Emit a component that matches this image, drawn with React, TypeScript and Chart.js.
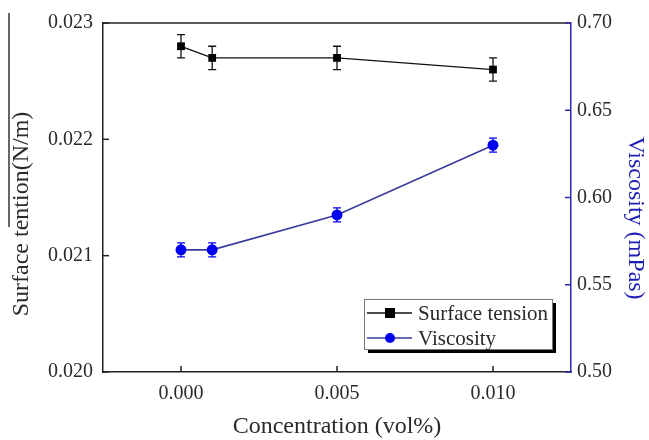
import React, { useEffect, useRef } from "react";
import { Chart, registerables } from "chart.js";

Chart.register(...registerables);

const concentrations = [0, 0.001, 0.005, 0.01];
const surfaceTension = [0.0228, 0.0227, 0.0227, 0.0226];
const surfaceTensionErr = [0.0001, 0.0001, 0.0001, 0.0001];
const viscosity = [0.57, 0.57, 0.59, 0.63];
const viscosityErr = [0.004, 0.004, 0.004, 0.004];
const xTicks = [0, 0.005, 0.01];
const leftTicks = [0.02, 0.021, 0.022, 0.023];
const rightTicks = [0.5, 0.55, 0.6, 0.65, 0.7];

const FONT = "'Liberation Serif', 'Times New Roman', serif";
const BLUE_AXIS = "#2a2ab0";
const BLUE_LINE = "#3a3a9e";
const BLUE_MARK = "#0000f0";
const TEXT = "#2a2a2a";

const errorBarPlugin = {
  id: "errorBars",
  beforeDatasetsDraw(chart: any) {
    const ctx = chart.ctx;
    const errs = [surfaceTensionErr, viscosityErr];
    const colors = ["#111", BLUE_MARK];
    chart.data.datasets.forEach((ds: any, i: number) => {
      const yScale = chart.scales[ds.yAxisID];
      const xScale = chart.scales.x;
      ctx.save();
      ctx.strokeStyle = colors[i];
      ctx.lineWidth = 1.3;
      ds.data.forEach((p: any, j: number) => {
        const px = xScale.getPixelForValue(p.x);
        const y1 = yScale.getPixelForValue(p.y + errs[i][j]);
        const y2 = yScale.getPixelForValue(p.y - errs[i][j]);
        ctx.beginPath();
        ctx.moveTo(px, y1);
        ctx.lineTo(px, y2);
        ctx.moveTo(px - 4, y1);
        ctx.lineTo(px + 4, y1);
        ctx.moveTo(px - 4, y2);
        ctx.lineTo(px + 4, y2);
        ctx.stroke();
      });
      ctx.restore();
    });
  },
};

const decorPlugin = {
  id: "decor",
  afterDraw(chart: any) {
    const ctx = chart.ctx;
    const a = chart.chartArea;
    ctx.save();
    // top border
    ctx.strokeStyle = "#222";
    ctx.lineWidth = 1.5;
    ctx.beginPath();
    ctx.moveTo(a.left, a.top);
    ctx.lineTo(a.right, a.top);
    ctx.stroke();
    // inward ticks
    const tl = 6;
    chart.scales.x.ticks.forEach((t: any) => {
      const px = chart.scales.x.getPixelForValue(t.value);
      ctx.strokeStyle = "#222";
      ctx.beginPath();
      ctx.moveTo(px, a.bottom);
      ctx.lineTo(px, a.bottom - tl);
      ctx.stroke();
    });
    chart.scales.y.ticks.forEach((t: any) => {
      const py = chart.scales.y.getPixelForValue(t.value);
      ctx.strokeStyle = "#222";
      ctx.beginPath();
      ctx.moveTo(a.left, py);
      ctx.lineTo(a.left + tl, py);
      ctx.stroke();
    });
    chart.scales.y1.ticks.forEach((t: any) => {
      const py = chart.scales.y1.getPixelForValue(t.value);
      ctx.strokeStyle = BLUE_AXIS;
      ctx.beginPath();
      ctx.moveTo(a.right, py);
      ctx.lineTo(a.right - tl, py);
      ctx.stroke();
    });

    // axis titles
    ctx.fillStyle = TEXT;
    ctx.font = `24px ${FONT}`;
    ctx.textAlign = "center";
    ctx.textBaseline = "middle";
    ctx.fillText("Concentration (vol%)", 337, 427);

    ctx.save();
    ctx.translate(22, 214);
    ctx.rotate(-Math.PI / 2);
    ctx.fillText("Surface tention(N/m)", 0, 0);
    ctx.restore();
    // overline artifact
    ctx.strokeStyle = "#333";
    ctx.lineWidth = 1.5;
    ctx.beginPath();
    ctx.moveTo(9, 13);
    ctx.lineTo(9, 227);
    ctx.stroke();

    ctx.save();
    ctx.fillStyle = "#1f1fb4";
    ctx.translate(635, 218);
    ctx.rotate(Math.PI / 2);
    ctx.fillText("Viscosity (mPas)", 0, 0);
    ctx.restore();

    // legend
    const bx = a.right - 207;
    const by = a.bottom - 73;
    const bw = 188;
    const bh = 50;
    ctx.fillStyle = "#000";
    ctx.fillRect(bx + 4, by + 4, bw, bh);
    ctx.fillStyle = "#fff";
    ctx.fillRect(bx, by, bw, bh);
    ctx.strokeStyle = "#777";
    ctx.lineWidth = 1;
    ctx.strokeRect(bx + 0.5, by + 0.5, bw, bh);

    const rows = [
      { label: "Surface tension", y: by + 14, line: "#111", mark: "rect" },
      { label: "Viscosity", y: by + 39, line: BLUE_LINE, mark: "circle" },
    ];
    rows.forEach((r) => {
      ctx.strokeStyle = r.line;
      ctx.lineWidth = 1.3;
      ctx.beginPath();
      ctx.moveTo(bx + 3, r.y);
      ctx.lineTo(bx + 48, r.y);
      ctx.stroke();
      const mx = bx + 26;
      if (r.mark === "rect") {
        ctx.fillStyle = "#000";
        ctx.fillRect(mx - 5, r.y - 5, 10, 10);
      } else {
        ctx.fillStyle = BLUE_MARK;
        ctx.beginPath();
        ctx.arc(mx, r.y, 5, 0, Math.PI * 2);
        ctx.fill();
      }
      ctx.fillStyle = TEXT;
      ctx.font = `21px ${FONT}`;
      ctx.textAlign = "left";
      ctx.textBaseline = "middle";
      ctx.fillText(r.label, bx + 54, r.y + 1);
    });
    ctx.restore();
  },
};

export default function App() {
  const ref = useRef<HTMLCanvasElement>(null);
  useEffect(() => {
    if (!ref.current) return;
    const chart = new Chart(ref.current, {
      type: "line",
      data: {
        datasets: [
          {
            label: "Surface tension",
            data: concentrations.map((x, i) => ({ x, y: surfaceTension[i] })),
            yAxisID: "y",
            borderColor: "#111",
            borderWidth: 1.3,
            pointStyle: "rect",
            pointRadius: 5.5,
            pointBackgroundColor: "#000",
            pointBorderColor: "#000",
            pointBorderWidth: 0,
          },
          {
            label: "Viscosity",
            data: concentrations.map((x, i) => ({ x, y: viscosity[i] })),
            yAxisID: "y1",
            borderColor: BLUE_LINE,
            borderWidth: 1.6,
            pointStyle: "circle",
            pointRadius: 5.5,
            pointBackgroundColor: BLUE_MARK,
            pointBorderColor: BLUE_MARK,
            pointBorderWidth: 0,
          },
        ],
      },
      options: {
        responsive: false,
        animation: false,
        layout: { padding: { top: 23, left: 0, right: 0, bottom: 0 } },
        plugins: { legend: { display: false }, tooltip: { enabled: false } },
        scales: {
          x: {
            type: "linear",
            min: -0.0025,
            max: 0.0125,
            afterBuildTicks: (s: any) => {
              s.ticks = xTicks.map((v) => ({ value: v }));
            },
            afterFit: (s: any) => {
              s.height = 68;
            },
            grid: { display: false, drawTicks: false },
            border: { display: true, color: "#222", width: 1.5 },
            ticks: {
              padding: 10,
              color: TEXT,
              font: { family: FONT, size: 20 },
              callback: (v: any) => Number(v).toFixed(3),
            },
          },
          y: {
            type: "linear",
            position: "left",
            min: 0.02,
            max: 0.023,
            afterBuildTicks: (s: any) => {
              s.ticks = leftTicks.map((v) => ({ value: v }));
            },
            afterFit: (s: any) => {
              s.width = 103;
            },
            grid: { display: false, drawTicks: false },
            border: { display: true, color: "#222", width: 1.5 },
            ticks: {
              padding: 10,
              color: TEXT,
              font: { family: FONT, size: 20 },
              callback: (v: any) => Number(v).toFixed(3),
            },
          },
          y1: {
            type: "linear",
            position: "right",
            min: 0.5,
            max: 0.7,
            afterBuildTicks: (s: any) => {
              s.ticks = rightTicks.map((v) => ({ value: v }));
            },
            afterFit: (s: any) => {
              s.width = 78;
            },
            grid: { display: false, drawTicks: false },
            border: { display: true, color: BLUE_AXIS, width: 1.5 },
            ticks: {
              padding: 6,
              color: TEXT,
              font: { family: FONT, size: 20 },
              callback: (v: any) => Number(v).toFixed(2),
            },
          },
        },
      },
      plugins: [errorBarPlugin, decorPlugin],
    } as any);
    return () => chart.destroy();
  }, []);
  return (
    <div style={{ position: "absolute", left: 0, top: 0, width: 649, height: 440, background: "#fff" }}>
      <canvas ref={ref} width={649} height={440} />
    </div>
  );
}
